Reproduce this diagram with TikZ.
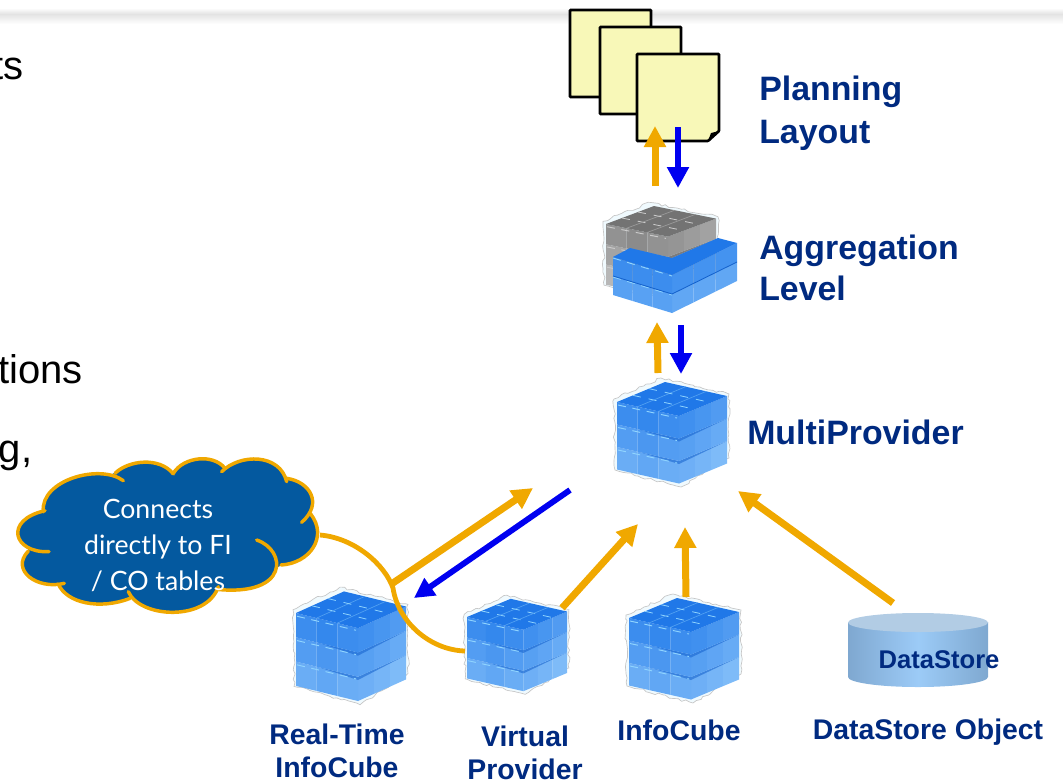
\documentclass[tikz,border=0pt]{standalone}
\usepackage{fontspec}
\setmainfont{Liberation Sans}
\newfontfamily\cloudfont{Lato}
\usetikzlibrary{arrows.meta,decorations.pathmorphing}

\definecolor{navytext}{HTML}{002A80}
\definecolor{sapphire}{HTML}{04599F}
\definecolor{amberline}{HTML}{F0A800}
\definecolor{purelineblue}{HTML}{0000F0}
\definecolor{notepaper}{HTML}{F8F8B8}
\definecolor{cubetop}{HTML}{2078E8}
\definecolor{cubedark}{HTML}{2C82EC}
\definecolor{cubepale}{HTML}{7DBAF8}
\definecolor{cubeseam}{HTML}{1260CC}
\definecolor{cubeglint}{HTML}{8FD4FF}
\definecolor{drumedge}{HTML}{7FA8D0}
\definecolor{drummid}{HTML}{9CCBF7}
\definecolor{drumlid}{HTML}{B2CCE4}

\tikzset{
    amberarrow/.style={draw=amberline, line width=5.25pt, -{Triangle[length=15.75pt, width=15.75pt]}},
    bluearrow/.style={draw=purelineblue, line width=5pt, -{Triangle[length=15.75pt, width=15.75pt]}},
    slimarrow/.style={draw=purelineblue, line width=4.4pt, -{Triangle[length=15pt, width=15pt]}},
    notesheet/.style={draw=black, line width=2pt, fill=notepaper, rounded corners=.5pt},
    biglabel/.style={text=navytext, font=\fontsize{25.4}{31}\selectfont\bfseries, align=left, inner sep=0pt},
    smalllabel/.style={text=navytext, font=\fontsize{21.3}{25}\selectfont\bfseries, align=center, inner sep=0pt},
    bodytext/.style={text=black, font=\fontsize{30}{36}\selectfont, inner sep=0pt, anchor=base east},
    cloudedge/.style={draw=amberline, line width=2.6pt, line cap=round},
    pics/blockcube/.style={code={
        % speckled cut-out rim
        \draw[gray!45, line width=.5pt, fill=cyan!6, decorate, decoration={random steps, segment length=3, amplitude=1}]
            (-3,-3) -- (44,-24) -- (112,-8) -- (112,56) -- (64,85) -- (-2,68) -- cycle;
        % layers, lowest first
        \foreach \i in {2, 1, 0} {
            \foreach \j in {0, 1, 2} {
                \pgfmathsetmacro{\mixleft}{10 + 28*\i + 10*mod(\j + 1, 2)}
                \pgfmathsetmacro{\mixright}{25 + 28*\i + 10*\j}
                \fill[cubepale!\mixleft!cubedark] ({20.67*\j}, {4.67*\j + 22.5*\i}) -- ++(20.67, 4.67) -- ++(0, 22.5) -- ++(-20.67, -4.67) -- cycle;
                \fill[cubepale!\mixright!cubedark] ({62 + 16*\j}, {14 - 6.67*\j + 22.5*\i}) -- ++(16, -6.67) -- ++(0, 22.5) -- ++(-16, 6.67) -- cycle;
            }
            \ifnum\i>0
                \fill[cubeseam, opacity=.55] (22, {4.9 + 22.5*\i}) -- (62, {14 + 22.5*\i}) -- (110, {-6 + 22.5*\i}) -- (62, {17 + 22.5*\i}) -- cycle;
            \fi
            \draw[cubeglint, line width=.7pt, dash pattern=on 6pt off 5pt] (1, {3 + 22.5*\i}) -- (60, {16 + 22.5*\i});
        }
        % top face
        \fill[cubetop] (0, 0) -- (62, 14) -- (110, -6) -- (48, -20) -- cycle;
        \foreach \j in {1, 2} {
            \draw[cubeglint, line width=.6pt, dash pattern=on 6pt off 6pt] ({16*\j}, {-6.67*\j}) -- ++(62, 14);
            \draw[cubeglint!45!cubetop, line width=.5pt] ({20.67*\j}, {4.67*\j}) -- ++(48, -20);
        }
    }},
}

\begin{document}
\begin{tikzpicture}[x=.75pt, y=-.75pt]
    \useasboundingbox (0, 0) rectangle (1063, 782);

    % Header band
    \shade[top color=white, bottom color=gray!22] (0, 8) rectangle (1063, 14);
    \shade[top color=gray!22, bottom color=white] (0, 14) rectangle (1063, 24);

    % Cut-off body text
    \node[bodytext] (bodyone) at (24, 79) {ts};
    \node[bodytext] (bodytwo) at (83, 383) {tions};
    \node[bodytext] (bodythree) at (32.5, 462) {g,};

    % Planning sheets
    \draw[notesheet] (570, 10) rectangle (651, 97);
    \draw[notesheet] (600, 27) rectangle (681, 114);
    \draw[notesheet] (637, 54) -- (719, 54) -- (719, 131) -- (708, 141) -- (637, 141) -- cycle;
    \fill[black] (708, 141) -- (719, 131) -- (711, 133) -- cycle;

    % Aggregation block
    \begin{scope}
        \colorlet{cubetop}{black!55}
        \colorlet{cubedark}{black!48}
        \colorlet{cubepale}{black!22}
        \colorlet{cubeseam}{black!65}
        \colorlet{cubeglint}{black!20}
        \pic[yscale=.9] at (606, 224) {blockcube};
    \end{scope}
    \foreach \i in {1, 0} {
        \foreach \j in {0, 1, 2} {
            \pgfmathsetmacro{\mixleft}{20 + 35*\i}
            \pgfmathsetmacro{\mixright}{30 + 35*\i}
            \fill[cubepale!\mixleft!cubedark] ({613 + 19.67*\j}, {257 + 6*\j + 19*\i}) -- ++(19.67, 6) -- ++(0, 19) -- ++(-19.67, -6) -- cycle;
            \fill[cubepale!\mixright!cubedark] ({672 + 21.67*\j}, {275 - 10.67*\j + 19*\i}) -- ++(21.67, -10.67) -- ++(0, 19) -- ++(-21.67, 10.67) -- cycle;
        }
        \draw[cubeglint, line width=.7pt, dash pattern=on 6pt off 5pt] (613, {258 + 19*\i}) -- (672, {276 + 19*\i});
    }
    \fill[cubetop] (613, 257) -- (672, 275) -- (737, 243) -- (718, 238) -- (672, 258) -- (630, 248) -- cycle;
    \draw[cubeseam, line width=.6pt] (613, 276) -- (672, 294) -- (737, 262);

    % Cubes
    \pic at (617, 402) {blockcube};
    \pic[yscale=1.08] at (296, 613) {blockcube};
    \pic[scale=.91] at (467, 617) {blockcube};
    \pic at (629, 618) {blockcube};

    % DataStore drum
    \shade[left color=drumedge, right color=drumedge, middle color=drummid]
        (848, 622) -- (848, 677) arc[start angle=180, end angle=0, x radius=70, y radius=10] -- (988, 622) -- cycle;
    \fill[drumlid] (918, 622.5) ellipse[x radius=70, y radius=9.5];

    % Labels
    \node[biglabel, anchor=west] (planlabel) at (759, 113) {Planning\\[1pt]Layout};
    \node[biglabel, anchor=west] (agglabel) at (759, 268) {Aggregation\\Level};
    \node[biglabel, anchor=west] (multilabel) at (747, 432) {MultiProvider};
    \node[smalllabel] (realtimelabel) at (337, 751) {Real-Time\\InfoCube};
    \node[smalllabel] (virtuallabel) at (525, 753) {Virtual\\Provider};
    \node[smalllabel] (cubelabel) at (679, 730) {InfoCube};
    \node[smalllabel] (storelabel) at (928, 732) {DataStore Object};
    \node[text=navytext, font=\fontsize{19.2}{23}\selectfont\bfseries, inner sep=0pt] (drumlabel) at (939, 660) {DataStore};

    % Arrow ends
    \coordinate (planup) at (655, 186);
    \coordinate (plantop) at (655, 126);
    \coordinate (plandown) at (678, 127);
    \coordinate (planfoot) at (678, 188);
    \coordinate (aggup) at (658, 373);
    \coordinate (aggtop) at (657, 322);
    \coordinate (aggdown) at (681, 325);
    \coordinate (aggfoot) at (681, 374);
    \coordinate (realfrom) at (390, 585);
    \coordinate (realto) at (533, 488);
    \coordinate (backfrom) at (570, 490);
    \coordinate (backto) at (414, 598);
    \coordinate (virtfrom) at (562, 608);
    \coordinate (virtto) at (638, 524);
    \coordinate (cubefrom) at (686, 597);
    \coordinate (cubeto) at (685, 527);
    \coordinate (storefrom) at (893, 603);
    \coordinate (storeto) at (738, 491);

    % Flows
    \draw[amberarrow] (planup) -- (plantop);
    \draw[bluearrow] (plandown) -- (planfoot);
    \draw[amberarrow] (aggup) -- (aggtop);
    \draw[bluearrow] (aggdown) -- (aggfoot);
    \draw[amberarrow] (realfrom) -- (realto);
    \draw[slimarrow] (backfrom) -- (backto);
    \draw[amberarrow] (virtfrom) -- (virtto);
    \draw[amberarrow] (cubefrom) -- (cubeto);
    \draw[amberarrow] (storefrom) -- (storeto);

    % Cloud
    \begin{scope}[shift={(0, 440)}, x=.25pt, y=-.25pt]
        \filldraw[sapphire, line width=1pt] (135, 212) -- (345, 100) -- (520, 100) -- (675, 85) -- (860, 115) -- (932, 222) -- (843, 375) -- (650, 448) -- (390, 475) -- (175, 432) -- (85, 333) -- cycle;
        \foreach \a/\b/\c/\d in {
            {130,215}/{120,120}/{300,70}/{370,122},
            {345,100}/{385,60}/{480,50}/{520,102},
            {520,100}/{550,50}/{640,40}/{675,85},
            {665,95}/{720,40}/{840,40}/{860,125},
            {860,115}/{930,125}/{970,190}/{905,247},
            {932,222}/{985,290}/{930,370}/{843,375},
            {770,300}/{860,330}/{870,470}/{650,448},
            {385,455}/{420,535}/{620,545}/{655,440},
            {390,475}/{300,510}/{200,490}/{175,432},
            {193,430}/{110,450}/{30,390}/{85,333},
            {147,335}/{40,340}/{10,240}/{135,212}} {
            \filldraw[sapphire, line width=.8pt] (\a) .. controls (\b) and (\c) .. (\d) -- cycle;
        }
        \foreach \a/\b/\c/\d in {
            {130,215}/{120,120}/{300,70}/{370,122},
            {345,100}/{385,60}/{480,50}/{520,102},
            {520,100}/{550,50}/{640,40}/{675,85},
            {665,95}/{720,40}/{840,40}/{860,125},
            {860,115}/{930,125}/{970,190}/{905,247},
            {932,222}/{985,290}/{930,370}/{843,375},
            {770,300}/{860,330}/{870,470}/{650,448},
            {385,455}/{420,535}/{620,545}/{655,440},
            {390,475}/{300,510}/{200,490}/{175,432},
            {193,430}/{110,450}/{30,390}/{85,333},
            {147,335}/{40,340}/{10,240}/{135,212}} {
            \draw[cloudedge] (\a) .. controls (\b) and (\c) .. (\d);
        }
    \end{scope}
    \node[text=white, font=\cloudfont\fontsize{20}{27}\selectfont, align=center, inner sep=0pt] (cloudtext) at (158, 545) {Connects\\directly to FI\\/ CO tables};

    % Callout tail
    \coordinate (tailstart) at (320, 535);
    \coordinate (tailbend) at (393, 588);
    \coordinate (tailend) at (465, 651);
    \draw[draw=amberline, line width=3.6pt] (tailstart) .. controls (355, 538) and (385, 565) .. (tailbend) .. controls (398, 622) and (430, 650) .. (tailend);
\end{tikzpicture}
\end{document}
